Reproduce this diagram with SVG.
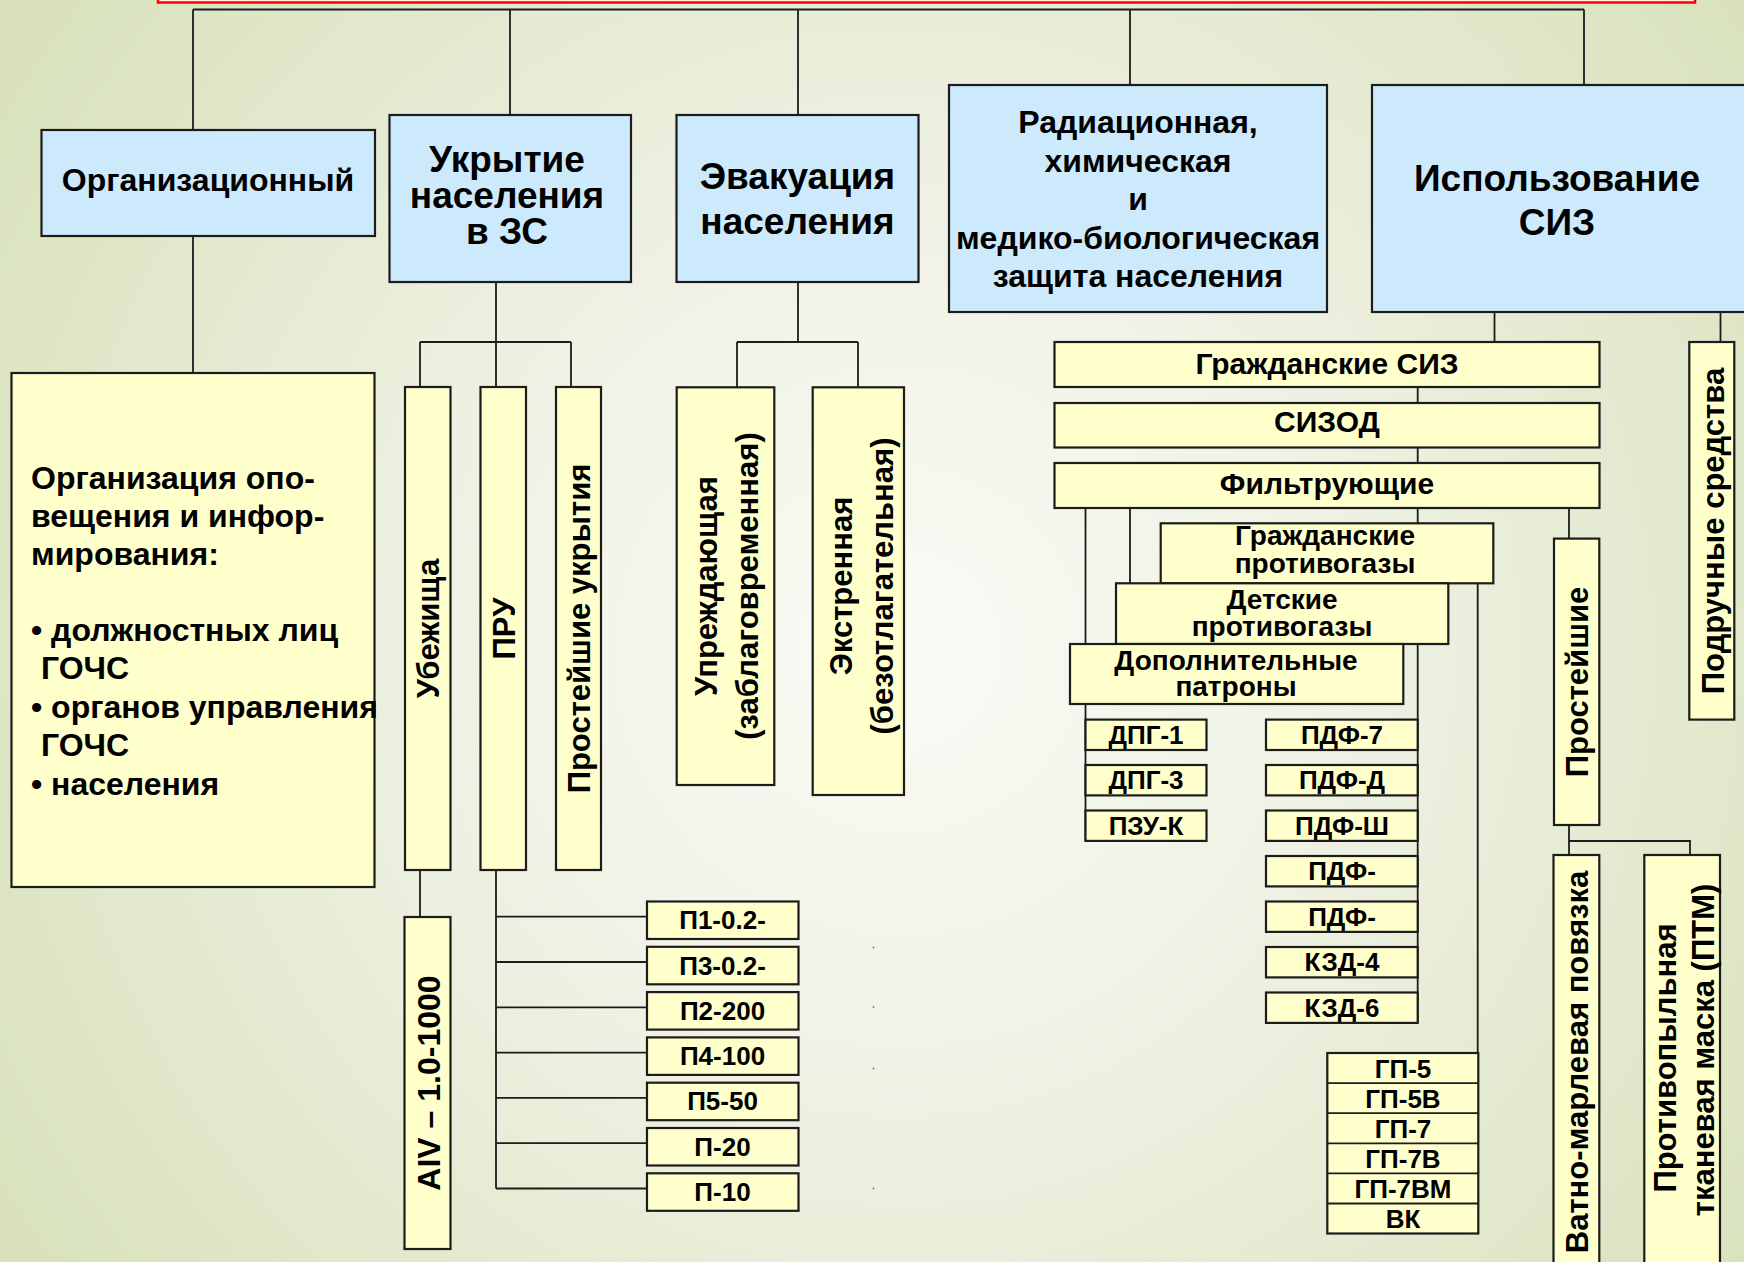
<svg xmlns="http://www.w3.org/2000/svg" width="1744" height="1262" viewBox="0 0 1744 1262">
<defs>
<radialGradient id="bg" cx="900" cy="650" r="1050" gradientUnits="userSpaceOnUse">
<stop offset="0" stop-color="#fafbf6"/>
<stop offset="0.45" stop-color="#eef1e2"/>
<stop offset="1" stop-color="#d9e2bd"/>
</radialGradient>
<style>
.blue{fill:#cdeafc;stroke:#1c1c1c;stroke-width:2.2}
.yel{fill:#ffffcc;stroke:#1c1c1c;stroke-width:2.2}
.ln{stroke:#1c1c1c;stroke-width:1.8;fill:none}
text{font-family:"Liberation Sans",Arial,sans-serif;font-weight:bold;fill:#000}
.c{text-anchor:middle}
.f37{font-size:37px}
.f32{font-size:32px}
.f31{font-size:31px}
.f30{font-size:30px}
.f28{font-size:28px}
.f26{font-size:26px}
</style>
</defs>
<rect x="0" y="0" width="1744" height="1262" fill="url(#bg)"/>
<rect x="158" y="-30" width="1537" height="32.5" fill="#fbefe6" stroke="#ff0000" stroke-width="2.5"/>

<g id="connectors" class="ln">
<path d="M193 9.5H1584M193 9.5V130M510 9.5V115M798 9.5V115M1130 9.5V85M1584 9.5V85"/>
<path d="M193 236V373"/>
<path d="M496 282V342M420 342H571M420 342V387M496 342V387M571 342V387"/>
<path d="M420 870V917"/>
<path d="M496 870V1188.5M496 916.7H647M496 962H647M496 1007.3H647M496 1052.6H647M496 1097.9H647M496 1143.2H647M496 1188.5H647"/>
<path d="M798 282V342M737 342H858M737 342V387M858 342V387"/>
<path d="M1494.5 311.5V342M1720.5 311.5V342"/>
<path d="M1417.7 387V403M1417.7 447V463M1417.7 508V523"/>
<path d="M1569 508V538.6M1085.5 508V841M1130 508V583.3"/>
<path d="M1417.7 644V1023M1477.7 583.3V1053"/>
<path d="M1569 825V855M1569 841H1690V855"/>
</g>

<g id="n-org">
<rect class="blue" x="41.5" y="130" width="333.5" height="106"/>
<text class="c f32" x="208" y="191">Организационный</text>
</g>
<g id="n-ukr">
<rect class="blue" x="389.5" y="115" width="241.5" height="167"/>
<text class="c f37" x="507" y="171.5">Укрытие</text>
<text class="c f37" x="507" y="207.5">населения</text>
<text class="c f37" x="507" y="243.5">в ЗС</text>
</g>
<g id="n-evak">
<rect class="blue" x="676.5" y="115" width="242" height="167"/>
<text class="c f37" x="797.5" y="188.5">Эвакуация</text>
<text class="c f37" x="797.5" y="233.5">населения</text>
</g>
<g id="n-rad">
<rect class="blue" x="949" y="85" width="378" height="227"/>
<text class="c f32" x="1138" y="133">Радиационная,</text>
<text class="c f32" x="1138" y="171.5">химическая</text>
<text class="c f32" x="1138" y="210">и</text>
<text class="c f32" x="1138" y="248.5">медико-биологическая</text>
<text class="c f32" x="1138" y="287">защита населения</text>
</g>
<g id="n-siz">
<rect class="blue" x="1372" y="85" width="400" height="227"/>
<text class="c f37" x="1557" y="191">Использование</text>
<text class="c f37" x="1557" y="235">СИЗ</text>
</g>

<g id="n-opov">
<rect class="yel" x="11.5" y="373" width="363" height="514"/>
<text class="f32" x="31" y="488.5">Организация опо-</text>
<text class="f32" x="31" y="526.5">вещения и инфор-</text>
<text class="f32" x="31" y="564.5">мирования:</text>
<text class="f32" x="31" y="641">• должностных лиц</text>
<text class="f32" x="41" y="679">ГОЧС</text>
<text class="f32" x="31" y="718">• органов управления</text>
<text class="f32" x="41" y="756">ГОЧС</text>
<text class="f32" x="31" y="794.5">• населения</text>
</g>

<g id="n-ubezh">
<rect class="yel" x="405" y="387" width="45.5" height="483"/>
<text class="c f31" transform="translate(439 628.5) rotate(-90)">Убежища</text>
</g>
<g id="n-pru">
<rect class="yel" x="480.5" y="387" width="45.5" height="483"/>
<text class="c f31" transform="translate(514.5 628.5) rotate(-90)">ПРУ</text>
</g>
<g id="n-prost-ukr">
<rect class="yel" x="556" y="387" width="45" height="483"/>
<text class="c f31" transform="translate(590 628.5) rotate(-90)">Простейшие укрытия</text>
</g>
<g id="n-aiv">
<rect class="yel" x="404.5" y="917" width="46" height="332"/>
<text class="c f32" transform="translate(439.5 1083) rotate(-90)">AIV – 1.0-1000</text>
</g>

<g id="n-p1"><rect class="yel" x="647" y="901.5" width="151.5" height="37.5"/><text class="c f26" x="722.5" y="929.2">П1-0.2-</text></g>
<g id="n-p3"><rect class="yel" x="647" y="946.8" width="151.5" height="37.5"/><text class="c f26" x="722.5" y="974.5">П3-0.2-</text></g>
<g id="n-p2"><rect class="yel" x="647" y="992.1" width="151.5" height="37.5"/><text class="c f26" x="722.5" y="1019.8">П2-200</text></g>
<g id="n-p4"><rect class="yel" x="647" y="1037.4" width="151.5" height="37.5"/><text class="c f26" x="722.5" y="1065.1">П4-100</text></g>
<g id="n-p5"><rect class="yel" x="647" y="1082.7" width="151.5" height="37.5"/><text class="c f26" x="722.5" y="1110.4">П5-50</text></g>
<g id="n-p20"><rect class="yel" x="647" y="1128" width="151.5" height="37.5"/><text class="c f26" x="722.5" y="1155.7">П-20</text></g>
<g id="n-p10"><rect class="yel" x="647" y="1173.3" width="151.5" height="37.5"/><text class="c f26" x="722.5" y="1201">П-10</text></g>

<g id="n-upr">
<rect class="yel" x="676.7" y="387.3" width="97.6" height="397.7"/>
<text class="c f31" transform="translate(716.7 586) rotate(-90)">Упреждающая</text>
<text class="c f31" transform="translate(758 586) rotate(-90)">(заблаговременная)</text>
</g>
<g id="n-ekstr">
<rect class="yel" x="812.7" y="387.3" width="91.3" height="407.7"/>
<text class="c f31" transform="translate(851.7 586) rotate(-90)">Экстренная</text>
<text class="c f31" transform="translate(893.2 586) rotate(-90)">(безотлагательная)</text>
</g>

<g id="n-grsiz"><rect class="yel" x="1054.5" y="342" width="545" height="45"/><text class="c f30" x="1327" y="373.5">Гражданские СИЗ</text></g>
<g id="n-sizod"><rect class="yel" x="1054.5" y="403" width="545" height="44.5"/><text class="c f30" x="1327" y="432">СИЗОД</text></g>
<g id="n-filtr"><rect class="yel" x="1054.5" y="463" width="545" height="45"/><text class="c f30" x="1327" y="493.5">Фильтрующие</text></g>

<g id="n-grprot"><rect class="yel" x="1160.7" y="523.3" width="332.6" height="60"/>
<text class="c f28" x="1325" y="545">Гражданские</text><text class="c f28" x="1325" y="573">противогазы</text></g>
<g id="n-detprot"><rect class="yel" x="1116" y="583.3" width="332.3" height="60.7"/>
<text class="c f28" x="1282" y="608.5">Детские</text><text class="c f28" x="1282" y="635.5">противогазы</text></g>
<g id="n-dop"><rect class="yel" x="1070" y="644" width="333.3" height="60"/>
<text class="c f28" x="1236" y="670">Дополнительные</text><text class="c f28" x="1236" y="695.5">патроны</text></g>

<g id="n-dpg1"><rect class="yel" x="1085.5" y="719.6" width="121" height="30.4"/><text class="c f26" x="1146" y="744">ДПГ-1</text></g>
<g id="n-dpg3"><rect class="yel" x="1085.5" y="765" width="121" height="30.4"/><text class="c f26" x="1146" y="789.4">ДПГ-3</text></g>
<g id="n-pzu"><rect class="yel" x="1085.5" y="810.5" width="121" height="30.4"/><text class="c f26" x="1146" y="834.9">ПЗУ-К</text></g>

<g id="n-pdf7"><rect class="yel" x="1266" y="719.6" width="151.7" height="30.4"/><text class="c f26" x="1342" y="744">ПДФ-7</text></g>
<g id="n-pdfd"><rect class="yel" x="1266" y="765" width="151.7" height="30.4"/><text class="c f26" x="1342" y="789.4">ПДФ-Д</text></g>
<g id="n-pdfsh"><rect class="yel" x="1266" y="810.5" width="151.7" height="30.4"/><text class="c f26" x="1342" y="834.9">ПДФ-Ш</text></g>
<g id="n-pdf4"><rect class="yel" x="1266" y="856" width="151.7" height="30.4"/><text class="c f26" x="1342" y="880.4">ПДФ-</text></g>
<g id="n-pdf5"><rect class="yel" x="1266" y="901.5" width="151.7" height="30.4"/><text class="c f26" x="1342" y="925.9">ПДФ-</text></g>
<g id="n-kzd4"><rect class="yel" x="1266" y="947" width="151.7" height="30.4"/><text class="c f26" x="1342" y="971.4">КЗД-4</text></g>
<g id="n-kzd6"><rect class="yel" x="1266" y="992.5" width="151.7" height="30.4"/><text class="c f26" x="1342" y="1016.9">КЗД-6</text></g>

<g id="n-gp">
<rect class="yel" x="1327.3" y="1053" width="151" height="180.5"/>
<path class="ln" d="M1327.3 1083.1H1478.3M1327.3 1113.2H1478.3M1327.3 1143.3H1478.3M1327.3 1173.4H1478.3M1327.3 1203.5H1478.3"/>
<text class="c f26" x="1403" y="1077.5">ГП-5</text>
<text class="c f26" x="1403" y="1107.6">ГП-5В</text>
<text class="c f26" x="1403" y="1137.7">ГП-7</text>
<text class="c f26" x="1403" y="1167.8">ГП-7В</text>
<text class="c f26" x="1403" y="1197.9">ГП-7ВМ</text>
<text class="c f26" x="1403" y="1228">ВК</text>
</g>

<g id="n-prost">
<rect class="yel" x="1554" y="538.6" width="45.3" height="286.4"/>
<text class="c f31" transform="translate(1588 682) rotate(-90)">Простейшие</text>
</g>
<g id="n-podr">
<rect class="yel" x="1689.3" y="342" width="45" height="377.6"/>
<text class="c f31" transform="translate(1723.5 531) rotate(-90)">Подручные средства</text>
</g>
<g id="n-vatno">
<rect class="yel" x="1553.5" y="855" width="45.8" height="420"/>
<text class="c f31" transform="translate(1588 1062) rotate(-90)">Ватно-марлевая повязка</text>
</g>
<g id="n-ptm">
<rect class="yel" x="1644.3" y="855" width="75.7" height="420"/>
<text class="c f31" transform="translate(1676 1058) rotate(-90)">Противопыльная</text>
<text class="c f31" transform="translate(1714 1050) rotate(-90)">тканевая маска (ПТМ)</text>
</g>

<g id="dots" fill="#777">
<circle cx="873.5" cy="947.5" r="0.9"/>
<circle cx="873.5" cy="1007" r="0.9"/>
<circle cx="873.5" cy="1068.5" r="0.9"/>
<circle cx="873.5" cy="1188.5" r="0.9"/>
</g>
</svg>
